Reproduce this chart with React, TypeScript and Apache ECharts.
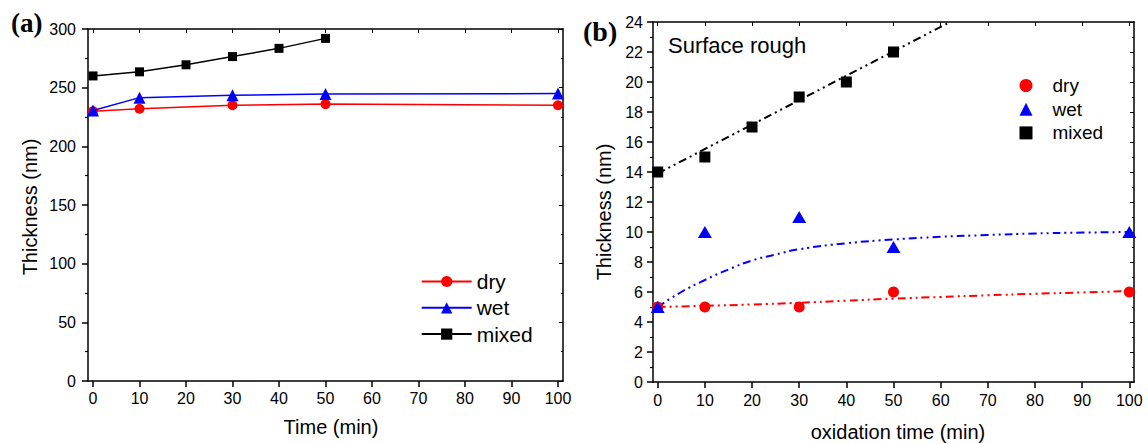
import React, { useEffect, useRef } from "react";
import * as echarts from "echarts";

// ---------- Panel (a) data ----------
const timeTicks = [0, 10, 20, 30, 40, 50, 60, 70, 80, 90, 100];
const aDryX = [0, 10, 30, 50, 100];
const aDryY = [230, 232, 235, 236, 235];
const aWetX = [0, 10, 30, 50, 100];
const aWetY = [230.5, 241.5, 243.5, 244.5, 245];
const aMixedX = [0, 10, 20, 30, 40, 50];
const aMixedY = [260, 263.5, 269.5, 276.5, 283.5, 292];

// ---------- Panel (b) data ----------
const bDryX = [0, 10, 30, 50, 100];
const bDryY = [5, 5, 5, 6, 6];
const bWetX = [0, 10, 30, 50, 100];
const bWetY = [5, 10, 11, 9, 10];
const bMixedX = [0, 10, 20, 30, 40, 50];
const bMixedY = [14, 15, 17, 19, 20, 22];

// fitted curves
const fitDryX = [0, 10, 20, 30, 40, 50, 60, 70, 80, 90, 100];
const fitDryY = [5.0, 5.08, 5.17, 5.28, 5.42, 5.56, 5.67, 5.78, 5.88, 5.97, 6.06];
const fitWetX = [0, 5, 10, 15, 20, 25, 30, 40, 50, 60, 70, 80, 90, 100];
const fitWetY = [5.0, 6.0, 6.8, 7.5, 8.1, 8.5, 8.85, 9.25, 9.5, 9.68, 9.8, 9.9, 9.96, 10.0];
const fitMixedX = [0, 62];
const fitMixedY = [13.9, 24];

const legendNames = ["dry", "wet", "mixed"];

const zip = (xs: number[], ys: number[]) => xs.map((x, i) => [x, ys[i]]);

const FONT = "Liberation Sans";
const RED = "#ff0000";
const BLUE = "#0000ff";
const BLACK = "#000000";
const DASH = [8, 4, 2, 4, 2, 4];

function makeXAxes(gridIndex: number, min: number, max: number, margin: number) {
  const common = {
    type: "value" as const,
    gridIndex,
    min,
    max,
    splitLine: { show: false },
    axisLine: { show: true, onZero: false, lineStyle: { color: "#000", width: 1.5 } },
  };
  return [
    {
      ...common,
      position: "bottom",
      axisTick: { show: true, inside: false, length: 6, customValues: timeTicks, lineStyle: { width: 1.5, color: "#000" } },
      axisLabel: { show: true, customValues: timeTicks, margin, fontSize: 16, color: "#000", fontFamily: FONT },
    },
    {
      ...common,
      position: "top",
      axisTick: { show: true, inside: true, length: 4, customValues: timeTicks, lineStyle: { width: 1, color: "#000" } },
      axisLabel: { show: false },
    },
  ];
}

function makeYAxes(gridIndex: number, min: number, max: number, interval: number, margin: number) {
  const common = {
    type: "value" as const,
    gridIndex,
    min,
    max,
    interval,
    splitLine: { show: false },
    axisLine: { show: true, onZero: false, lineStyle: { color: "#000", width: 1.5 } },
  };
  return [
    {
      ...common,
      position: "left",
      axisTick: { show: true, inside: false, length: 6, lineStyle: { width: 1.5, color: "#000" } },
      minorTick: { show: true, splitNumber: 2, length: 3, lineStyle: { width: 1.2, color: "#000" } },
      axisLabel: { show: true, margin, fontSize: 16, color: "#000", fontFamily: FONT },
    },
    {
      ...common,
      position: "right",
      axisTick: { show: true, inside: true, length: 4, lineStyle: { width: 1, color: "#000" } },
      minorTick: { show: true, splitNumber: 2, length: 2, lineStyle: { width: 1, color: "#000" } },
      axisLabel: { show: false },
    },
  ];
}

function text(x: number, y: number, t: string, font: string, align = "left", rotation = 0) {
  return {
    type: "text",
    x,
    y,
    rotation,
    style: {
      text: t,
      font,
      fill: "#000",
      align,
      verticalAlign: "middle",
      textAlign: align,
      textVerticalAlign: "middle",
    },
  };
}

export default function App() {
  const ref = useRef<HTMLDivElement>(null);

  useEffect(() => {
    document.body.style.margin = "0";
    if (!ref.current) return;
    const chart = echarts.init(ref.current, undefined, { renderer: "svg" });

    const option: any = {
      animation: false,
      backgroundColor: "#fff",
      grid: [
        { left: 88, top: 29, width: 475, height: 352 },
        { left: 653, top: 22, width: 481, height: 360 },
      ],
      xAxis: [...makeXAxes(0, -1.08, 101.08, 9), ...makeXAxes(1, -1, 101, 10)],
      yAxis: [...makeYAxes(0, 0, 300, 50, 12), ...makeYAxes(1, 0, 24, 2, 10)],
      legend: [
        {
          data: legendNames,
          orient: "vertical",
          left: 415.7,
          top: 266,
          itemWidth: 50,
          itemHeight: 14,
          itemGap: 5.3,
          textStyle: { fontSize: 21, color: "#000", fontFamily: FONT },
        },
        {
          data: legendNames.map((n) => "b-" + n),
          orient: "vertical",
          left: 1014.5,
          top: 71,
          itemWidth: 13,
          itemHeight: 13,
          itemGap: 4.7,
          formatter: (name: string) => name.replace("b-", ""),
          textStyle: { fontSize: 19, color: "#000", fontFamily: FONT, padding: [0, 0, 0, 15] },
        },
      ],
      series: [
        {
          name: "dry",
          type: "line",
          xAxisIndex: 0,
          yAxisIndex: 0,
          data: zip(aDryX, aDryY),
          symbol: "circle",
          symbolSize: 10,
          itemStyle: { color: RED },
          lineStyle: { color: RED, width: 1.5 },
          z: 2,
        },
        {
          name: "wet",
          type: "line",
          xAxisIndex: 0,
          yAxisIndex: 0,
          data: zip(aWetX, aWetY),
          symbol: "triangle",
          symbolSize: 12,
          itemStyle: { color: BLUE },
          lineStyle: { color: BLUE, width: 1.5 },
          z: 3,
        },
        {
          name: "mixed",
          type: "line",
          xAxisIndex: 0,
          yAxisIndex: 0,
          data: zip(aMixedX, aMixedY),
          symbol: "rect",
          symbolSize: 9,
          itemStyle: { color: BLACK },
          lineStyle: { color: BLACK, width: 1.5 },
          z: 3,
        },
        // panel (b) fits
        {
          name: "fit-dry",
          type: "line",
          xAxisIndex: 2,
          yAxisIndex: 2,
          data: zip(fitDryX, fitDryY),
          smooth: true,
          showSymbol: false,
          symbol: "none",
          lineStyle: { color: RED, width: 2, type: DASH },
          z: 1,
        },
        {
          name: "fit-wet",
          type: "line",
          xAxisIndex: 2,
          yAxisIndex: 2,
          data: zip(fitWetX, fitWetY),
          smooth: true,
          showSymbol: false,
          symbol: "none",
          lineStyle: { color: BLUE, width: 2, type: DASH },
          z: 1,
        },
        {
          name: "fit-mixed",
          type: "line",
          xAxisIndex: 2,
          yAxisIndex: 2,
          data: zip(fitMixedX, fitMixedY),
          showSymbol: false,
          symbol: "none",
          lineStyle: { color: BLACK, width: 2, type: DASH },
          z: 1,
        },
        // panel (b) points
        {
          name: "b-dry",
          type: "scatter",
          xAxisIndex: 2,
          yAxisIndex: 2,
          data: zip(bDryX, bDryY),
          symbol: "circle",
          symbolSize: 11,
          itemStyle: { color: RED, opacity: 1 },
          z: 3,
        },
        {
          name: "b-wet",
          type: "scatter",
          xAxisIndex: 2,
          yAxisIndex: 2,
          data: zip(bWetX, bWetY),
          symbol: "triangle",
          symbolSize: [14, 12],
          itemStyle: { color: BLUE, opacity: 1 },
          z: 3,
        },
        {
          name: "b-mixed",
          type: "scatter",
          xAxisIndex: 2,
          yAxisIndex: 2,
          data: zip(bMixedX, bMixedY),
          symbol: "rect",
          symbolSize: 11,
          itemStyle: { color: BLACK, opacity: 1 },
          z: 3,
        },
      ],
      graphic: [
        text(11, 23, "(a)", `bold 27px "Liberation Serif"`),
        text(583, 31, "(b)", `bold 28px "Liberation Serif"`),
        text(668, 45, "Surface rough", `22px "${FONT}"`),
        text(29.5, 207, "Thickness (nm)", `20px "${FONT}"`, "center", Math.PI / 2),
        text(603.5, 212, "Thickness (nm)", `20px "${FONT}"`, "center", Math.PI / 2),
        text(331, 427, "Time (min)", `20px "${FONT}"`, "center"),
        text(898, 432, "oxidation time (min)", `20px "${FONT}"`, "center"),
      ],
    };

    chart.setOption(option);
    return () => chart.dispose();
  }, []);

  return (
    <div
      ref={ref}
      style={{ position: "absolute", left: 0, top: 0, width: 1148, height: 444 }}
    />
  );
}
